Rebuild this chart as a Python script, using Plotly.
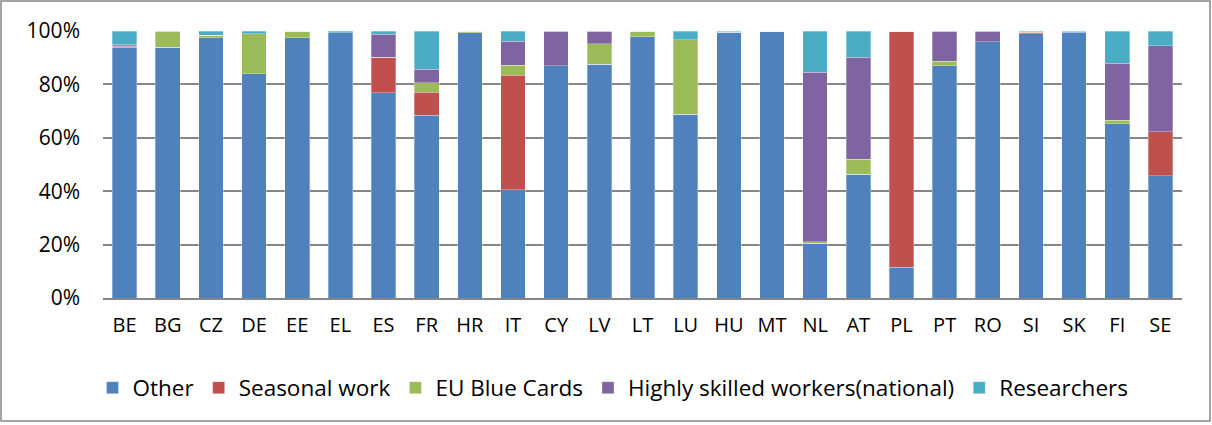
import plotly.graph_objects as go

# -- Datos (porcentajes) --------------------------------------------------------
paises = ["BE", "BG", "CZ", "DE", "EE", "EL", "ES", "FR", "HR", "IT", "CY", "LV", "LT",
          "LU", "HU", "MT", "NL", "AT", "PL", "PT", "RO", "SI", "SK", "FI", "SE"]

other       = [94.0, 94.0, 97.4, 83.9, 97.4, 99.3, 76.8, 68.5, 99.3, 40.6, 86.9, 87.6, 97.9,
               68.9, 99.6, 99.9, 20.6, 46.4, 11.5, 86.9, 96.0, 99.0, 99.6, 65.2, 45.8]
seasonal    = [0.2, 0.0, 0.0, 0.0, 0.0, 0.0, 13.4, 8.6, 0.0, 42.9, 0.0, 0.0, 0.0,
               0.0, 0.0, 0.0, 0.0, 0.0, 88.5, 0.0, 0.0, 0.6, 0.2, 0.0, 16.4]
blue_cards  = [0.3, 5.7, 1.0, 15.1, 2.6, 0.0, 0.0, 3.6, 0.7, 3.6, 0.0, 7.7, 2.1,
               27.8, 0.2, 0.0, 0.5, 5.5, 0.0, 1.7, 0.0, 0.0, 0.0, 1.4, 0.0]
highly_sk   = [0.3, 0.3, 0.0, 0.0, 0.0, 0.0, 8.6, 5.0, 0.0, 9.1, 13.1, 4.6, 0.0,
               0.0, 0.0, 0.0, 63.5, 38.3, 0.0, 11.4, 3.8, 0.2, 0.0, 21.3, 32.3]
researchers = [5.2, 0.0, 1.6, 1.0, 0.0, 0.7, 1.2, 14.2, 0.0, 3.7, 0.0, 0.0, 0.0,
               3.2, 0.2, 0.1, 15.4, 9.7, 0.0, 0.0, 0.2, 0.2, 0.2, 12.1, 5.5]

series = [
    ("Other", other, "#4F81BD"),
    ("Seasonal work", seasonal, "#C0504D"),
    ("EU Blue Cards", blue_cards, "#9BBB59"),
    ("Highly skilled workers(national)", highly_sk, "#8064A2"),
    ("Researchers", researchers, "#4BACC6"),
]

# -- Grafico --------------------------------------------------------------------
fig = go.Figure()
for nombre, valores, color in series:
    fig.add_trace(go.Bar(
        x=paises, y=valores, name=nombre,
        marker=dict(color=color, line=dict(color="rgba(255,255,255,0.5)", width=0.6)),
    ))

W, H = 1212, 425
ML, MR, MT, MB = 103, 30, 31, 127
pw, ph = W - ML - MR, H - MT - MB

fig.update_layout(
    width=W, height=H,
    barmode="stack",
    bargap=0.43,
    margin=dict(l=ML, r=MR, t=MT, b=MB),
    plot_bgcolor="white",
    paper_bgcolor="white",
    font=dict(family="Open Sans, Liberation Sans", size=20, color="black"),
    showlegend=True,
    legend=dict(orientation="h", x=(613 - ML) / pw, xanchor="center",
                y=-(388 - (MT + ph)) / ph, yanchor="middle",
                font=dict(size=22.5), traceorder="normal", itemwidth=30),
    xaxis=dict(showline=True, linecolor="#868686", linewidth=2, ticks="",
               tickfont=dict(size=20), ticklabelstandoff=8),
    yaxis=dict(range=[0, 100], dtick=20, ticksuffix="%", gridcolor="#868686", gridwidth=1.5,
               showline=False, zeroline=False, tickfont=dict(size=21), ticklabelstandoff=22),
)

# marco exterior del grafico
fig.add_shape(type="rect", xref="paper", yref="paper",
              x0=(1 - ML) / pw, x1=(W - 2 - ML) / pw,
              y0=-(H - 4 - MT - ph) / ph, y1=1 + (MT - 1) / ph,
              line=dict(color="#868686", width=1.5))

fig.write_html("out.html", config={"displayModeBar": False},
               post_script="document.body.style.margin='0px';")
